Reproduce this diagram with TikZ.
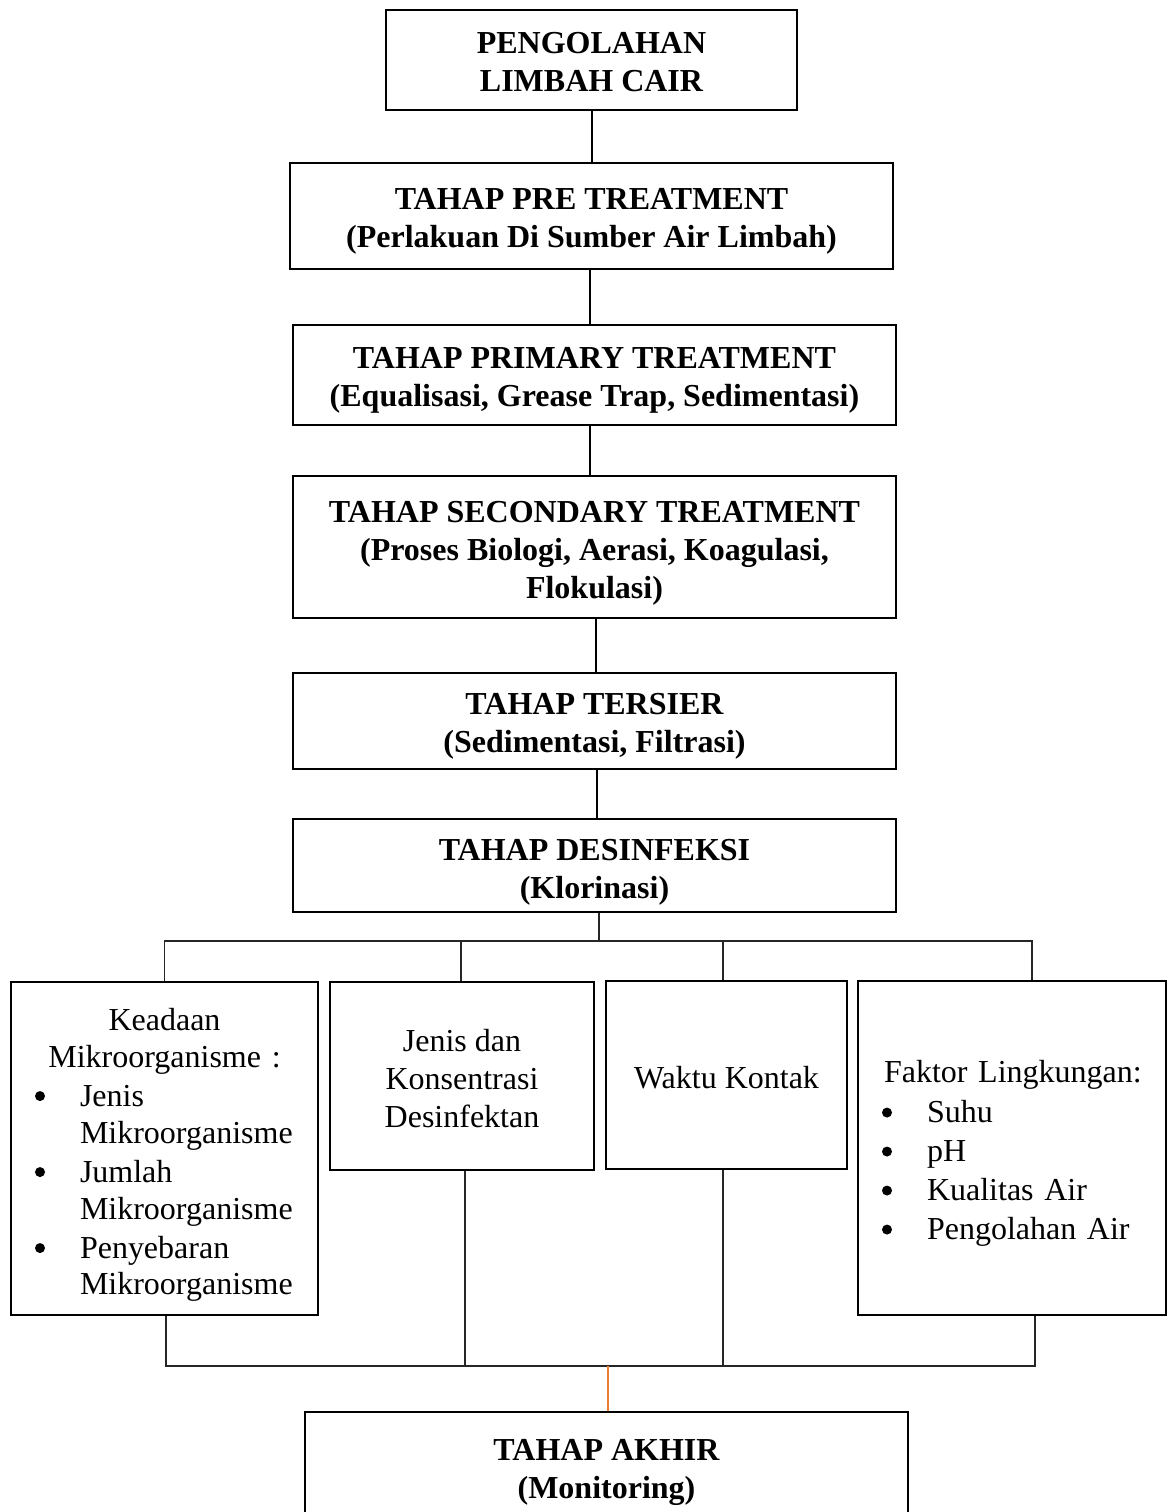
\documentclass[tikz,border=0pt]{standalone}
\usepackage{fontspec}
\setmainfont{Liberation Serif}
\definecolor{orangeline}{RGB}{237,125,49}
\tikzset{
  box/.style={draw=black, line width=1.3pt, rectangle, inner sep=0pt, align=center,
    font=\fontsize{16pt}{19pt}\selectfont\bfseries},
  lbox/.style={draw=black, line width=1.3pt, rectangle, inner sep=0pt,
    font=\fontsize{16pt}{19pt}\selectfont},
  thick link/.style={draw=black, line width=1pt},
  thin link/.style={draw=black!85, line width=0.6pt},
}
\newcommand{\tstrut}[1]{\rule{0pt}{#1}}
\newcommand{\bigbul}{\tikz[baseline={(0pt,-5pt)}]\fill[black] (0pt,0pt) circle (2.5pt);}
\newcommand{\bitem}[1]{\hspace*{12pt}\makebox[22.5pt][l]{\bigbul}#1}
\newcommand{\bcont}[1]{\hspace*{34.5pt}#1}
\begin{document}
\begin{tikzpicture}[x=0.5pt,y=-0.5pt]
\useasboundingbox (0,0) rectangle (1169,1512);

\node[box, minimum width=205.5pt, minimum height=50pt] (b1) at (591.5,60)
  {\tstrut{13pt}PENGOLAHAN\\LIMBAH CAIR};
\node[box, minimum width=301.5pt, minimum height=53pt] (b2) at (591.5,216)
  {\tstrut{16pt}TAHAP PRE TREATMENT\\(Perlakuan Di Sumber Air Limbah)};
\node[box, minimum width=301.5pt, minimum height=50pt] (b3) at (594.5,375)
  {\tstrut{16pt}TAHAP PRIMARY TREATMENT\\(Equalisasi, Grease Trap, Sedimentasi)};
\node[box, minimum width=301.5pt, minimum height=71pt] (b4) at (594.5,547)
  {\tstrut{17pt}TAHAP SECONDARY TREATMENT\\(Proses Biologi, Aerasi, Koagulasi,\\Flokulasi)};
\node[box, minimum width=301.5pt, minimum height=48pt] (b5) at (594.5,721)
  {\tstrut{16pt}TAHAP TERSIER\\(Sedimentasi, Filtrasi)};
\node[box, minimum width=301.5pt, minimum height=46.5pt] (b6) at (594.5,865.5)
  {\tstrut{17pt}TAHAP DESINFEKSI\\(Klorinasi)};

\node[lbox, minimum width=153.5pt, minimum height=166.5pt, text width=153.5pt, align=left] (A) at (164.5,1148.5)
  {\makebox[153.5pt][c]{\tstrut{17pt}Keadaan}\\[-0.5pt]
   \makebox[153.5pt][c]{Mikroorganisme :}\\[0.5pt]
   \bitem{Jenis}\\[-0.5pt]
   \bcont{Mikroorganisme}\\[0.5pt]
   \bitem{Jumlah}\\[-0.5pt]
   \bcont{Mikroorganisme}\\[0.5pt]
   \bitem{Penyebaran}\\[-1pt]
   \bcont{Mikroorganisme}};
\node[lbox, minimum width=132pt, minimum height=94pt, align=center] (B) at (462,1076)
  {\tstrut{13.5pt}Jenis dan\\Konsentrasi\\Desinfektan};
\node[lbox, minimum width=120.5pt, minimum height=94pt, align=center] (C) at (726.5,1075)
  {\tstrut{14pt}Waktu Kontak};
\node[lbox, minimum width=154pt, minimum height=167pt, text width=154pt, align=left] (D) at (1012,1148)
  {\hspace*{13pt}\tstrut{16.5pt}Faktor Lingkungan:\\[1pt]
   \bitem{Suhu}\\[0.5pt]
   \bitem{pH}\\[0.5pt]
   \bitem{Kualitas Air}\\[0.5pt]
   \bitem{Pengolahan Air}};

\node[box, minimum width=301.5pt, minimum height=56pt] (fin) at (606.5,1468)
  {\tstrut{15pt}TAHAP AKHIR\\(Monitoring)};

% vertical chain
\draw[thick link] (b1.south) -- (b2.north);
\draw[thick link] ([xshift=-0.75pt]b2.south) -- ([xshift=-0.75pt]b2.south |- b3.north);
\draw[thick link] ([xshift=-2.25pt]b3.south) -- ([xshift=-2.25pt]b4.north);
\draw[thick link] ([xshift=0.75pt]b4.south) -- ([xshift=0.75pt]b5.north);
\draw[thick link] ([xshift=1.25pt]b5.south) -- ([xshift=1.25pt]b6.north);

% upper distribution
\coordinate (top) at (599,941);
\coordinate (dtop) at (1032,941);
\draw[thin link] (b6.south -| top) -- (top);
\draw[thin link] (A.north) |- (dtop) -- (dtop |- D.north);
\draw[thin link] ([xshift=-0.5pt]B.north) -- ([xshift=-0.5pt]B.north |- top);
\draw[thin link] ([xshift=-1.75pt]C.north) -- ([xshift=-1.75pt]C.north |- top);

% lower collection
\coordinate (bot) at (608,1366);
\coordinate (dbot) at (1035,1366);
\draw[thin link] ([xshift=0.75pt]A.south) |- (dbot) -- (dbot |- D.south);
\draw[thin link] ([xshift=1.5pt]B.south) -- ([xshift=1.5pt]B.south |- bot);
\draw[thin link] ([xshift=-1.75pt]C.south) -- ([xshift=-1.75pt]C.south |- bot);
\draw[draw=orangeline, line width=0.8pt] (bot) -- (bot |- fin.north);
\end{tikzpicture}
\end{document}
